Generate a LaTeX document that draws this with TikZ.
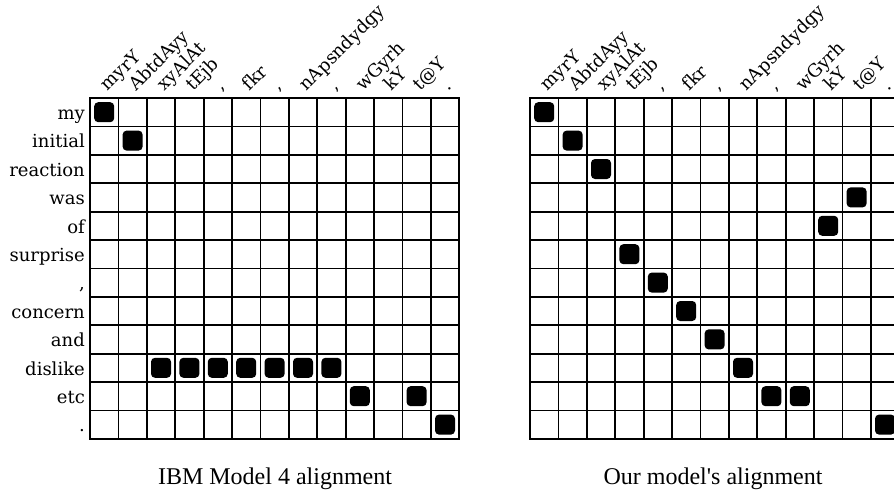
\documentclass[tikz,border=0pt]{standalone}
\usepackage{fontspec}
\setmainfont{Liberation Serif}
\newfontfamily\wordfont{DejaVu Serif}
\usetikzlibrary{positioning}

\begin{document}
\begin{tikzpicture}[x=1pt,y=-1pt,
  gridline/.style={line width=1.8pt,line cap=rect},
  word/.style={font=\wordfont\fontsize{18}{18}\selectfont,inner sep=1pt},
  link/.style={fill=black,rounded corners=4pt,minimum size=20pt,inner sep=0pt},
  title/.style={font=\fontsize{24}{24}\selectfont,anchor=base}]
\clip (0,0) rectangle (894,490);

\foreach \gx/\p in {90/l,530/r}{
\begin{scope}[shift={(\gx,98)},x=28.4pt,y=-28.4pt]
\foreach \i in {0,...,13} \draw[gridline] (\i,0) -- (\i,12);
\foreach \j in {0,...,12} \draw[gridline] (0,\j) -- (13,\j);
\foreach \w [count=\i from 0] in {myrY,AbtdAyy,xyAlAt,tEjb,{,},fkr,{,},nApsndydgy,{,},wGyrh,kY,t@Y,.}
  \node[word,rotate=45,anchor=base west] (\p src\i) at (\i+0.6,-0.2) {\w};
\end{scope}
}

\begin{scope}[shift={(90,98)},x=28.4pt,y=-28.4pt]
\foreach \w [count=\j from 0] in {my,initial,reaction,was,of,surprise,{,},concern,and,dislike,etc,.}
  \node[word,anchor=base east] (ltgt\j) at (-0.14,\j+0.76) {\w};
\foreach \c/\r [count=\k] in {1/1,2/2,3/10,4/10,5/10,6/10,7/10,8/10,9/10,10/11,12/11,13/12}
  \node[link] (lnk\k) at (\c-0.5,\r-0.5) {};
\end{scope}

\begin{scope}[shift={(530,98)},x=28.4pt,y=-28.4pt]
\foreach \c/\r [count=\k] in {1/1,2/2,3/3,12/4,11/5,4/6,5/7,6/8,7/9,8/10,9/11,10/11,13/12}
  \node[link] (rnk\k) at (\c-0.5,\r-0.5) {};
\end{scope}

\node[title] (lcap) at (275,484) {IBM Model 4 alignment};
\node[title] (rcap) at (713,484) {Our model\textquotesingle s alignment};
\end{tikzpicture}
\end{document}
